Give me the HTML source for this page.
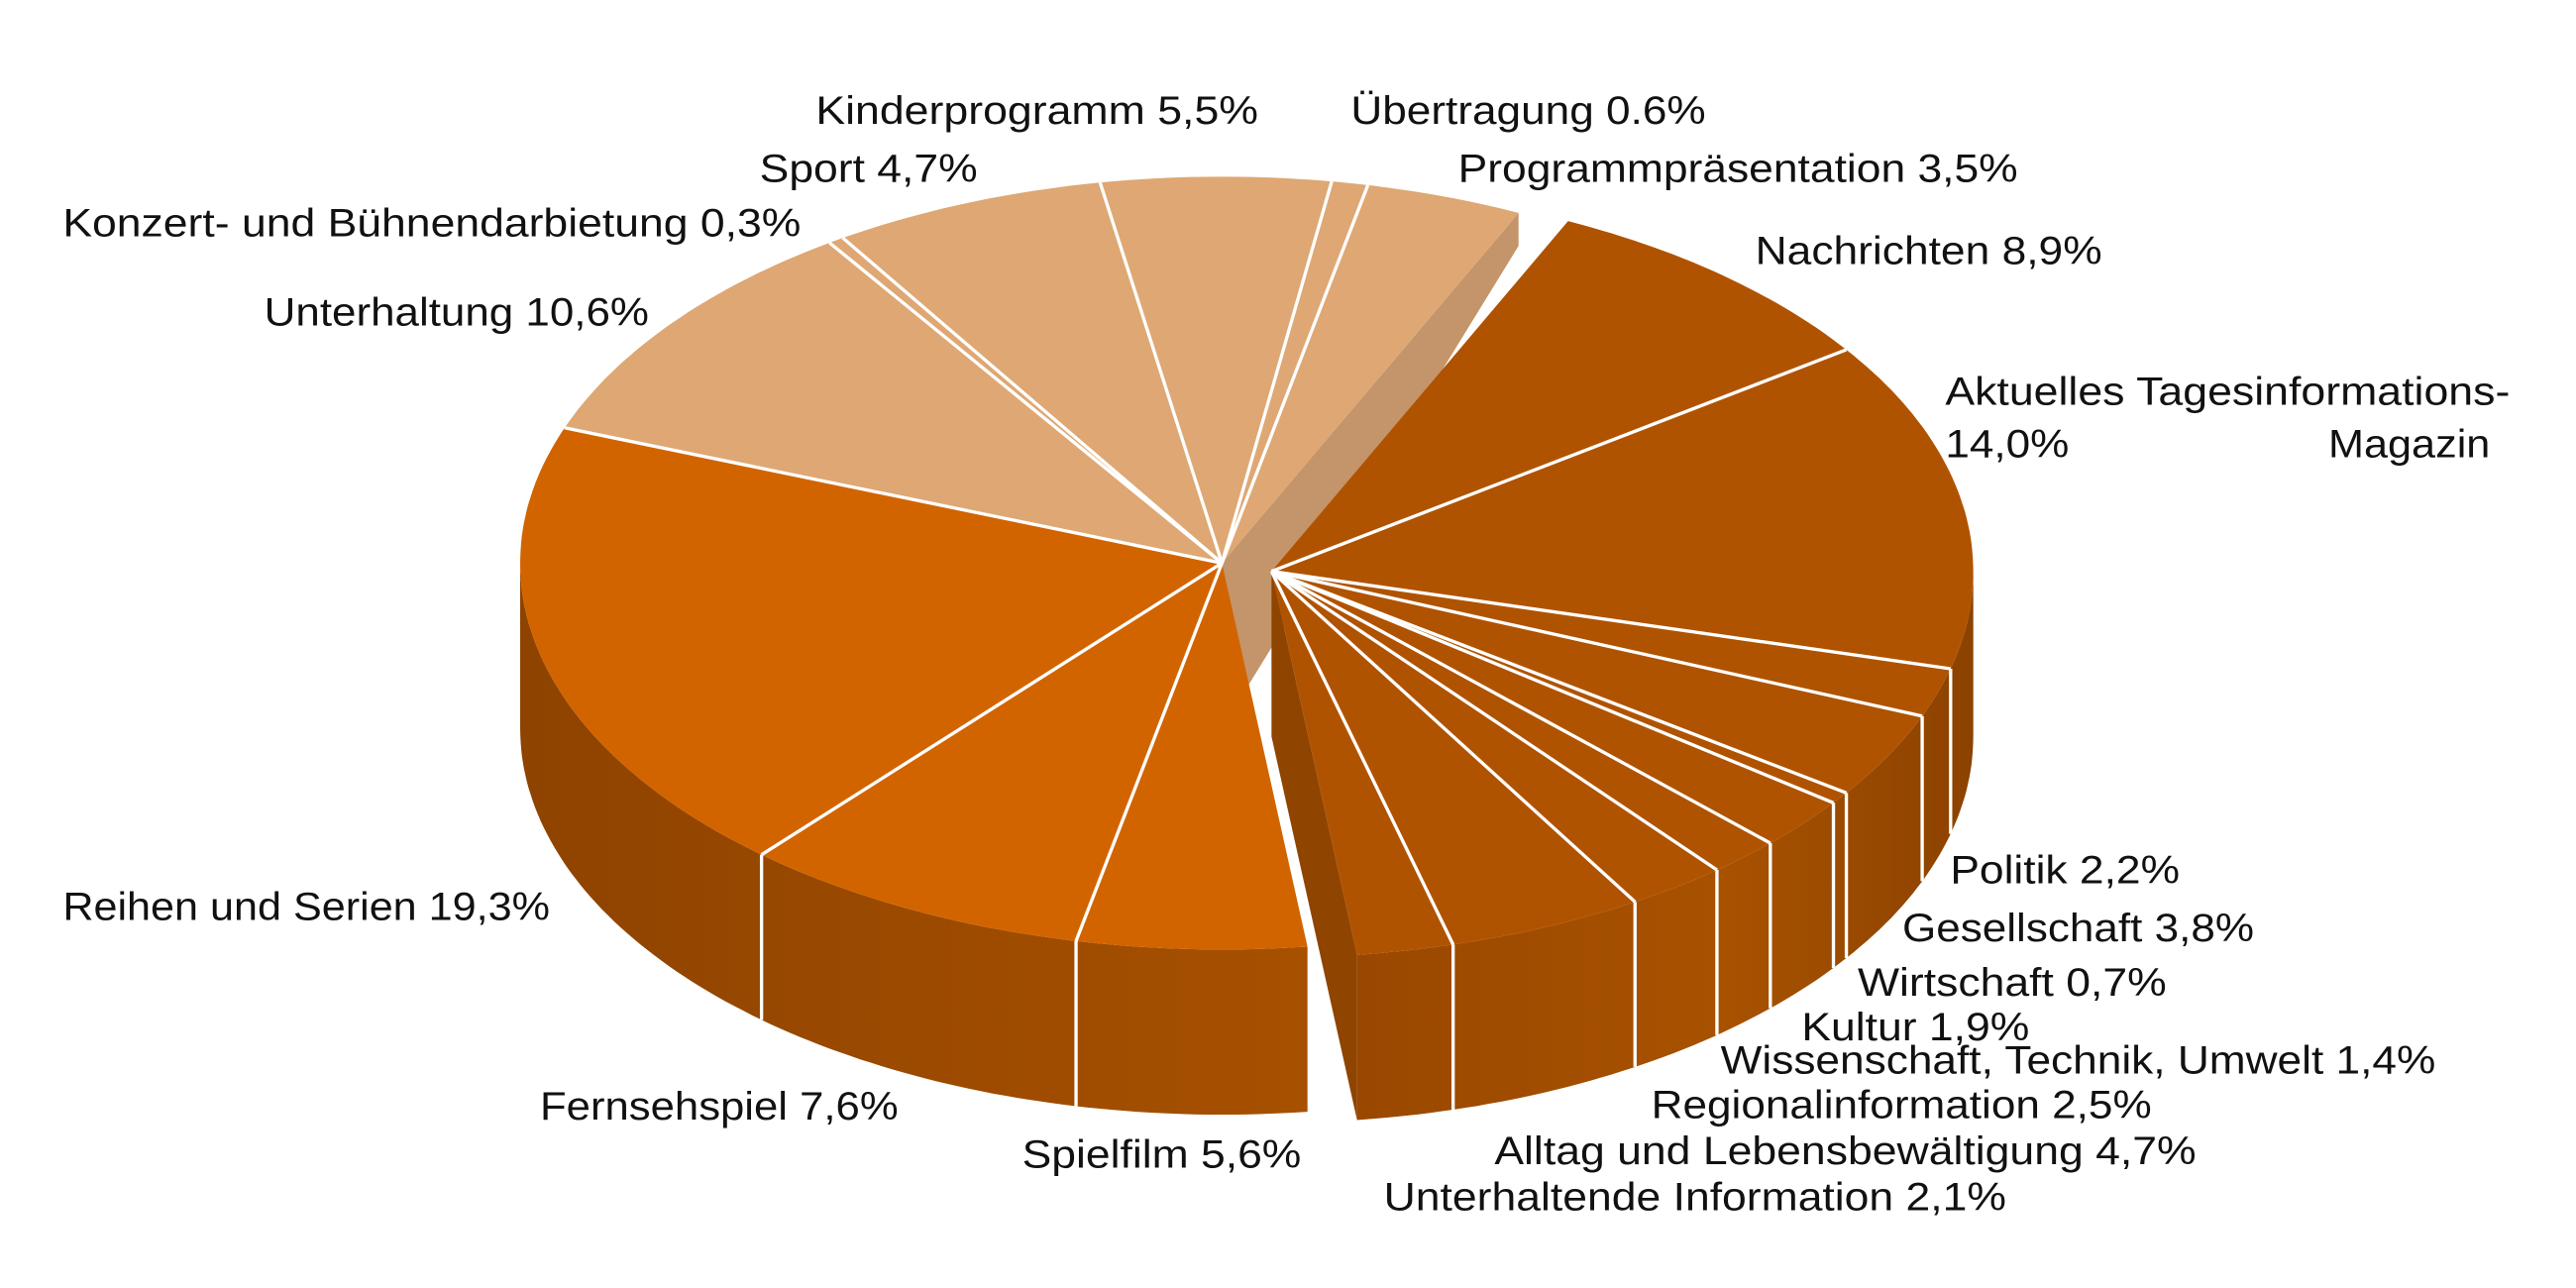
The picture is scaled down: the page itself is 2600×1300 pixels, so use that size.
<!DOCTYPE html>
<html><head><meta charset="utf-8"><style>
html,body{margin:0;padding:0;background:#fff;}
svg{display:block;}
text{font-family:"Liberation Sans Narrow","Liberation Sans",sans-serif;font-size:24px;fill:#111;}
</style></head><body>
<svg id="s" width="2600" height="1300" viewBox="0 0 1560 780" xmlns="http://www.w3.org/2000/svg">
<defs>
<linearGradient id="gm" x1="0" x2="1" y1="0" y2="0">
<stop offset="0" stop-color="#8e4300"/><stop offset="0.5" stop-color="#9c4a00"/><stop offset="1" stop-color="#a65000"/></linearGradient>
<linearGradient id="ge" x1="0" x2="1" y1="0" y2="0">
<stop offset="0" stop-color="#9a4800"/><stop offset="0.6" stop-color="#a85200"/><stop offset="1" stop-color="#8c4200"/></linearGradient>
</defs>
<g id="shapes"></g>
<g>
<text x="494" y="75" textLength="268" lengthAdjust="spacingAndGlyphs">Kinderprogramm 5,5%</text>
<text x="818" y="75" textLength="215" lengthAdjust="spacingAndGlyphs">Übertragung 0.6%</text>
<text x="460" y="110" textLength="132" lengthAdjust="spacingAndGlyphs">Sport 4,7%</text>
<text x="883" y="110" textLength="339" lengthAdjust="spacingAndGlyphs">Programmpräsentation 3,5%</text>
<text x="38" y="143" textLength="447" lengthAdjust="spacingAndGlyphs">Konzert- und Bühnendarbietung 0,3%</text>
<text x="1063" y="160" textLength="210" lengthAdjust="spacingAndGlyphs">Nachrichten 8,9%</text>
<text x="160" y="197" textLength="233" lengthAdjust="spacingAndGlyphs">Unterhaltung 10,6%</text>
<text x="1178" y="245" textLength="342" lengthAdjust="spacingAndGlyphs">Aktuelles Tagesinformations-</text>
<text x="1178" y="277" textLength="75" lengthAdjust="spacingAndGlyphs">14,0%</text>
<text x="1410" y="277" textLength="98" lengthAdjust="spacingAndGlyphs">Magazin</text>
<text x="38" y="557" textLength="295" lengthAdjust="spacingAndGlyphs">Reihen und Serien 19,3%</text>
<text x="1181" y="535" textLength="139" lengthAdjust="spacingAndGlyphs">Politik 2,2%</text>
<text x="1152" y="570" textLength="213" lengthAdjust="spacingAndGlyphs">Gesellschaft 3,8%</text>
<text x="1125" y="603" textLength="187" lengthAdjust="spacingAndGlyphs">Wirtschaft 0,7%</text>
<text x="1091" y="630" textLength="138" lengthAdjust="spacingAndGlyphs">Kultur 1,9%</text>
<text x="1042" y="650" textLength="433" lengthAdjust="spacingAndGlyphs">Wissenschaft, Technik, Umwelt 1,4%</text>
<text x="1000" y="677" textLength="303" lengthAdjust="spacingAndGlyphs">Regionalinformation 2,5%</text>
<text x="905" y="705" textLength="425" lengthAdjust="spacingAndGlyphs">Alltag und Lebensbewältigung 4,7%</text>
<text x="838" y="733" textLength="377" lengthAdjust="spacingAndGlyphs">Unterhaltende Information 2,1%</text>
<text x="327" y="678" textLength="217" lengthAdjust="spacingAndGlyphs">Fernsehspiel 7,6%</text>
<text x="619" y="707" textLength="169" lengthAdjust="spacingAndGlyphs">Spielfilm 5,6%</text>
</g>
</svg>
<script>
(function(){
var NS="http://www.w3.org/2000/svg",g=document.getElementById("shapes");
var RX=425,RY=234,D=100;
var M={x:740,y:341},E={x:770,y:346};
function P(c,t,dy){var r=t*Math.PI/180;return [c.x+RX*Math.cos(r),c.y+RY*Math.sin(r)+(dy||0)];}
function add(d,fill,stroke,sw){var p=document.createElementNS(NS,"path");p.setAttribute("d",d);p.setAttribute("fill",fill);
 if(stroke){p.setAttribute("stroke",stroke);p.setAttribute("stroke-width",sw||2);}g.appendChild(p);}
function arc(c,a,b,dy){var s="";for(var t=a;t<=b+1e-6;t+=1){var q=P(c,Math.min(t,b),dy);s+="L"+q[0].toFixed(1)+","+q[1].toFixed(1);}var q=P(c,b,dy);s+="L"+q[0].toFixed(1)+","+q[1].toFixed(1);return s;}
function side(c,a,b,fill){var s="M"+P(c,a)[0]+","+P(c,a)[1]+arc(c,a,b,0);
 var back="";for(var t=b;t>=a-1e-6;t-=1){var q=P(c,Math.max(t,a),D);back+="L"+q[0].toFixed(1)+","+q[1].toFixed(1);}
 var q=P(c,a,D);back+="L"+q[0]+","+q[1];add(s+back+"Z",fill);}
function wedge(c,a,b,fill){add("M"+c.x+","+c.y+arc(c,a,b,0)+"Z",fill);}
function vline(c,t){var a=P(c,t),b=P(c,t,D);add("M"+a[0]+","+a[1]+"L"+b[0]+","+b[1],"none","#fff",2);}
function rline(c,t){var a=P(c,t);add("M"+c.x+","+c.y+"L"+a[0]+","+a[1],"none","#fff",2);}
var a=P(M,295);
add("M"+M.x+","+M.y+"L"+a[0]+","+a[1]+"L"+a[0]+","+(a[1]+20)+"L"+M.x+","+(M.y+D)+"Z","#c4956a");
side(M,83,180,"url(#gm)");
wedge(M,83,200.5,"#d26400");
wedge(M,200.5,295,"#dea773");
[131,102,200.5,236,237.3,260,279,282].forEach(function(t){rline(M,t);});
vline(M,131);vline(M,102);
var b=P(E,83);
add("M"+E.x+","+E.y+"L"+b[0]+","+b[1]+"L"+b[0]+","+(b[1]+D)+"L"+E.x+","+(E.y+D)+"Z","#8f4400");
side(E,0,83,"url(#ge)");
wedge(E,-65,83,"#b05300");
[-35,14.6,22,35,36.8,44.7,50.6,58.8,75].forEach(function(t){rline(E,t);});
[14.6,22,35,36.8,44.7,50.6,58.8,75].forEach(function(t){vline(E,t);});
})();
</script>
</body></html>
